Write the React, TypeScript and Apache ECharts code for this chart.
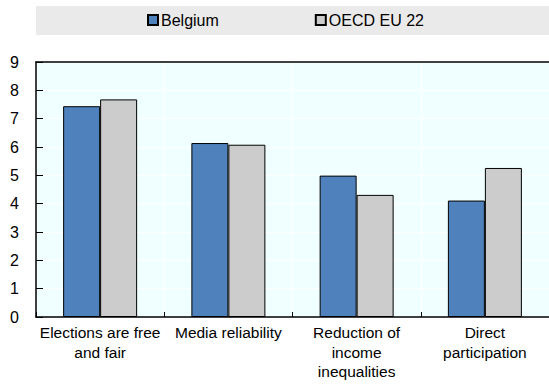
import React, { useEffect, useRef } from "react";
import * as echarts from "echarts";

const categories = [
  "Elections are free\nand fair",
  "Media reliability",
  "Reduction of\nincome\ninequalities",
  "Direct\nparticipation",
];
const belgium = [7.44, 6.14, 4.99, 4.11];
const oecdEu22 = [7.68, 6.08, 4.31, 5.26];
const seriesNames = ["Belgium", "OECD EU 22"];

const FONT = "'Liberation Sans', Arial, sans-serif";

export default function App() {
  const ref = useRef<HTMLDivElement>(null);

  useEffect(() => {
    document.body.style.margin = "0";
    const chart = echarts.init(ref.current!, null, { renderer: "svg" });
    chart.setOption({
      animation: false,
      textStyle: { fontFamily: FONT },
      graphic: [
        {
          type: "rect",
          left: 36,
          top: 6,
          shape: { width: 513, height: 29 },
          style: { fill: "#EAEAEA" },
          z: -1,
        },
      ],
      legend: {
        left: 147,
        top: 12,
        itemWidth: 10,
        itemHeight: 10,
        itemGap: 96,
        padding: 0,
        textStyle: { fontSize: 16, color: "#000", fontFamily: FONT, padding: [0, 0, 0, -2] },
        data: seriesNames.map((n) => ({ name: n, icon: "rect" })),
      },
      grid: {
        left: 36,
        right: 0,
        top: 62,
        bottom: 70,
        show: true,
        backgroundColor: "#F0FFFF",
        borderWidth: 0,
      },
      xAxis: [
        {
          type: "category",
          data: categories,
          axisLine: { show: true, lineStyle: { color: "#000", width: 1.5 } },
          axisTick: { show: true, inside: true, length: 5, lineStyle: { color: "#000" } },
          axisLabel: {
            color: "#000",
            fontSize: 15.5,
            fontFamily: FONT,
            lineHeight: 19.5,
            margin: 6,
            interval: 0,
          },
          splitLine: { show: true, lineStyle: { color: "#FFFFFF", width: 1 } },
        },
        {
          type: "category",
          position: "top",
          data: categories,
          axisLine: { show: true, lineStyle: { color: "#000", width: 1.5 } },
          axisTick: { show: false },
          axisLabel: { show: false },
          splitLine: { show: false },
        },
      ],
      yAxis: {
        type: "value",
        min: 0,
        max: 9,
        interval: 1,
        axisLine: { show: true, lineStyle: { color: "#000", width: 1.5 } },
        axisTick: { show: true, inside: true, length: 7, lineStyle: { color: "#000" } },
        axisLabel: { color: "#000", fontSize: 16, fontFamily: FONT, margin: 17 },
        splitLine: { show: true, lineStyle: { color: "#FFFFFF", width: 1 } },
      },
      series: [
        {
          name: seriesNames[0],
          type: "bar",
          data: belgium,
          barWidth: 37,
          barGap: "0%",
          itemStyle: { color: "#4F81BD", borderColor: "#000", borderWidth: 1 },
        },
        {
          name: seriesNames[1],
          type: "bar",
          data: oecdEu22,
          barWidth: 37,
          barGap: "0%",
          itemStyle: { color: "#CCCCCC", borderColor: "#000", borderWidth: 1 },
        },
      ],
    });
    return () => chart.dispose();
  }, []);

  return <div ref={ref} style={{ width: 549, height: 387 }} />;
}
